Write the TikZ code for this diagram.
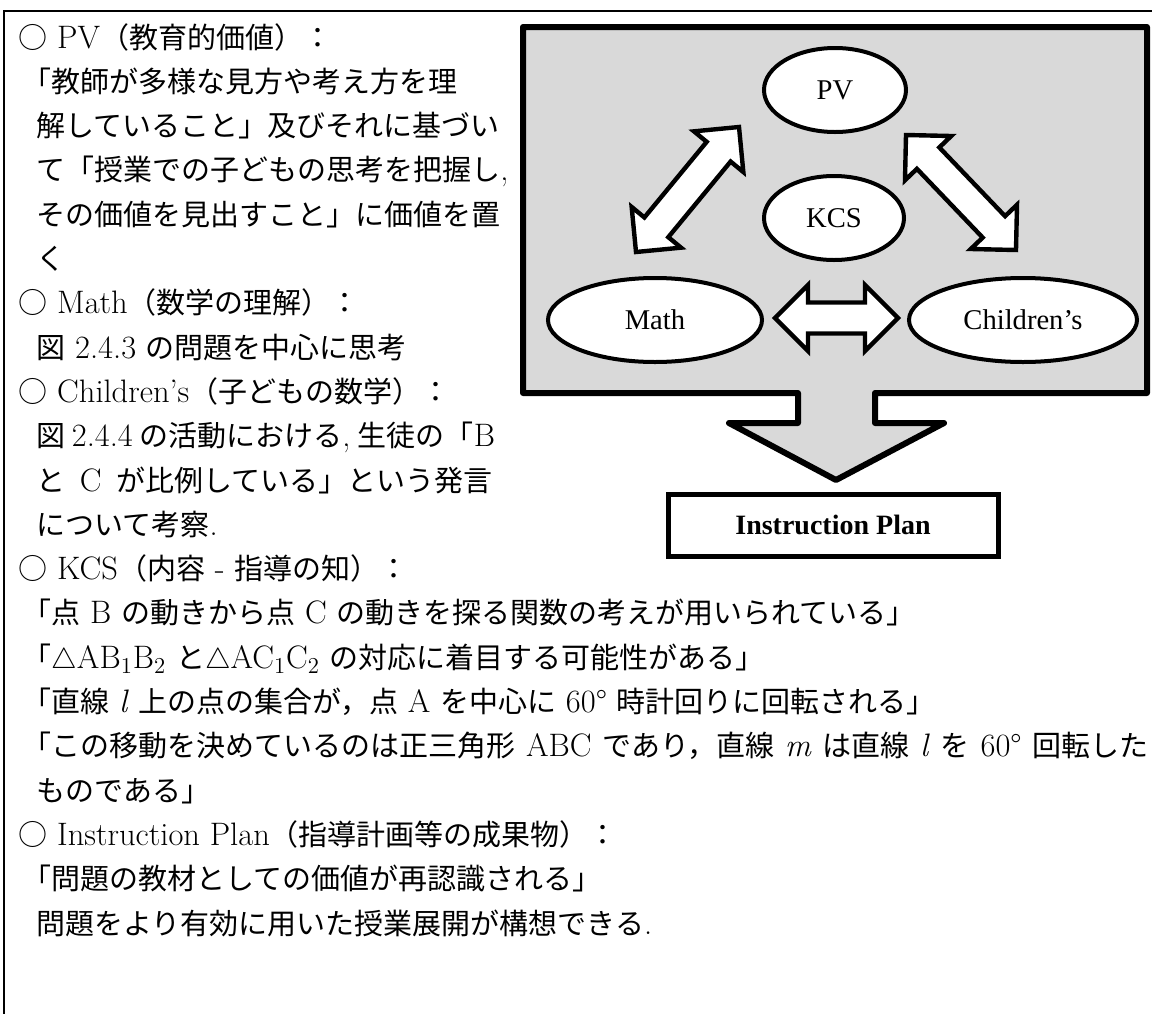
\documentclass[tikz,border=0pt]{standalone}
\usepackage{fontspec}
\setmainfont{Latin Modern Roman}[Scale=1.12]
\newfontfamily\jpfont{Noto Sans CJK JP}
\newfontfamily\timesfont{Liberation Serif}
\usetikzlibrary{calc,shapes.geometric}
\definecolor{panelgray}{HTML}{D9D9D9}
% stretchable space between Japanese characters, used for justified lines
\XeTeXlinebreaklocale "ja"
\XeTeXlinebreakskip=0pt plus 2pt minus 0.6pt
\newcommand\J[1]{{\jpfont #1}}
% a justified line of the given width
\newcommand\jline[2]{\hbox to #1{#2}}
% double-headed block arrow between two named points:
% #1,#2 ends, #3 shaft half width, #4 head half width, #5 head length
\newcommand\blockarrow[5]{%
  \coordinate (ba1) at ($(#1)!#5!(#2)$);
  \coordinate (ba2) at ($(#2)!#5!(#1)$);
  \draw[barrow] (#1) -- ($(ba1)!#4!90:(#2)$) -- ($(ba1)!#3!90:(#2)$)
    -- ($(ba2)!#3!-90:(#1)$) -- ($(ba2)!#4!-90:(#1)$) -- (#2)
    -- ($(ba2)!#4!90:(#1)$) -- ($(ba2)!#3!90:(#1)$)
    -- ($(ba1)!#3!-90:(#2)$) -- ($(ba1)!#4!-90:(#2)$) -- cycle;}
\tikzset{
  frame/.style={line width=1pt},
  panel/.style={draw, line width=3pt, fill=panelgray, line join=round},
  barrow/.style={draw, line width=2.2pt, fill=white},
  bubble/.style={ellipse, draw, line width=2pt, fill=white, inner sep=0pt,
    font=\timesfont\fontsize{14.3}{17}\selectfont},
  planbox/.style={rectangle, draw, line width=2.5pt, fill=white, inner sep=0pt,
    minimum width=165pt, minimum height=31pt,
    font=\timesfont\bfseries\fontsize{14}{16}\selectfont},
  txt/.style={anchor=base west, inner sep=0pt, font=\fontsize{14.5}{17}\selectfont}
}
\begin{document}
\begin{tikzpicture}[x=0.5pt, y=-0.5pt]
\useasboundingbox (0,0) rectangle (1152,1013);

% outer frame (runs off the right and bottom edges)
\draw[frame] (4,1040) -- (4,11) -- (1180,11);

% grey panel with the downward arrow
\draw[panel] (523,27) -- (1147,27) -- (1147,393) -- (875,393) -- (875,423)
  -- (944,423) -- (836,480) -- (729,423) -- (798,423) -- (798,393)
  -- (523,393) -- cycle;

% block arrow end points
\coordinate (hL) at (775,318);
\coordinate (hR) at (898,318);
\coordinate (dLlo) at (636,252);
\coordinate (dLhi) at (739,127);
\coordinate (dRhi) at (906,135);
\coordinate (dRlo) at (1016,250);

\blockarrow{hL}{hR}{7.75pt}{16.5pt}{16.5pt}
\blockarrow{dLlo}{dLhi}{7.75pt}{16pt}{16pt}
\blockarrow{dRhi}{dRlo}{7.75pt}{16pt}{16pt}

% components
\node[bubble, minimum width=71pt, minimum height=42pt] (pv) at (835,90) {PV};
\node[bubble, minimum width=70pt, minimum height=42pt] (kcs) at (834,218) {KCS};
\node[bubble, minimum width=107pt, minimum height=42pt] (math) at (655,320) {Math};
\node[bubble, minimum width=114pt, minimum height=42pt] (child) at (1023,320) {Children’s};
\node[planbox] (plan) at (833,525) {Instruction Plan};

% explanatory text
\node[txt] (t0)  at (18,48.0)  {\J{○} PV\J{（教育的価値）：}};
\node[txt] (t1)  at (22,92.3)  {\jline{235pt}{\J{「教師が多様な見方や考え方を理}}};
\node[txt] (t2)  at (36,136.6) {\jline{228pt}{\J{解していること」及びそれに基づい}}};
\node[txt] (t3)  at (36,180.9) {\jline{228pt}{\J{て「授業での子どもの思考を把握し},}};
\node[txt] (t4)  at (36,225.2) {\jline{228pt}{\J{その価値を見出すこと」に価値を置}}};
\node[txt] (t5)  at (36,269.5) {\J{く}};
\node[txt] (t6)  at (18,313.8) {\J{○} Math\J{（数学の理解）：}};
\node[txt] (t7)  at (36,358.1) {\J{図} 2.4.3 \J{の問題を中心に思考}};
\node[txt] (t8)  at (18,402.4) {\J{○} Children’s\J{（子どもの数学）：}};
\node[txt] (t9)  at (36,446.7) {\jline{228pt}{\J{図} 2.4.4 \J{の活動における}, \J{生徒の「}B}};
\node[txt] (t10) at (36,491.0) {\jline{228pt}{\J{と} C \J{が比例している」という発言}}};
\node[txt] (t11) at (36,535.3) {\J{について考察}.};
\node[txt] (t12) at (18,579.6) {\J{○} KCS\J{（内容} - \J{指導の知）：}};
\node[txt] (t13) at (22,623.9) {\J{「点} B \J{の動きから点} C \J{の動きを探る関数の考えが用いられている」}};
\node[txt] (t14) at (22,668.2) {\J{「}$\triangle$AB\textsubscript{1}B\textsubscript{2} \J{と}$\triangle$AC\textsubscript{1}C\textsubscript{2} \J{の対応に着目する可能性がある」}};
\node[txt] (t15) at (22,712.5) {\J{「直線} \textit{l} \J{上の点の集合が，点} A \J{を中心に} 60° \J{時計回りに回転される」}};
\node[txt] (t16) at (22,756.8) {\jline{563pt}{\J{「この移動を決めているのは正三角形} ABC \J{であり，直線} \textit{m} \J{は直線} \textit{l} \J{を} 60° \J{回転した}}};
\node[txt] (t17) at (36,801.1) {\J{ものである」}};
\node[txt] (t18) at (18,845.4) {\J{○} Instruction Plan\J{（指導計画等の成果物）：}};
\node[txt] (t19) at (22,889.7) {\J{「問題の教材としての価値が再認識される」}};
\node[txt] (t20) at (36,934.0) {\J{問題をより有効に用いた授業展開が構想できる}.};
\end{tikzpicture}
\end{document}
